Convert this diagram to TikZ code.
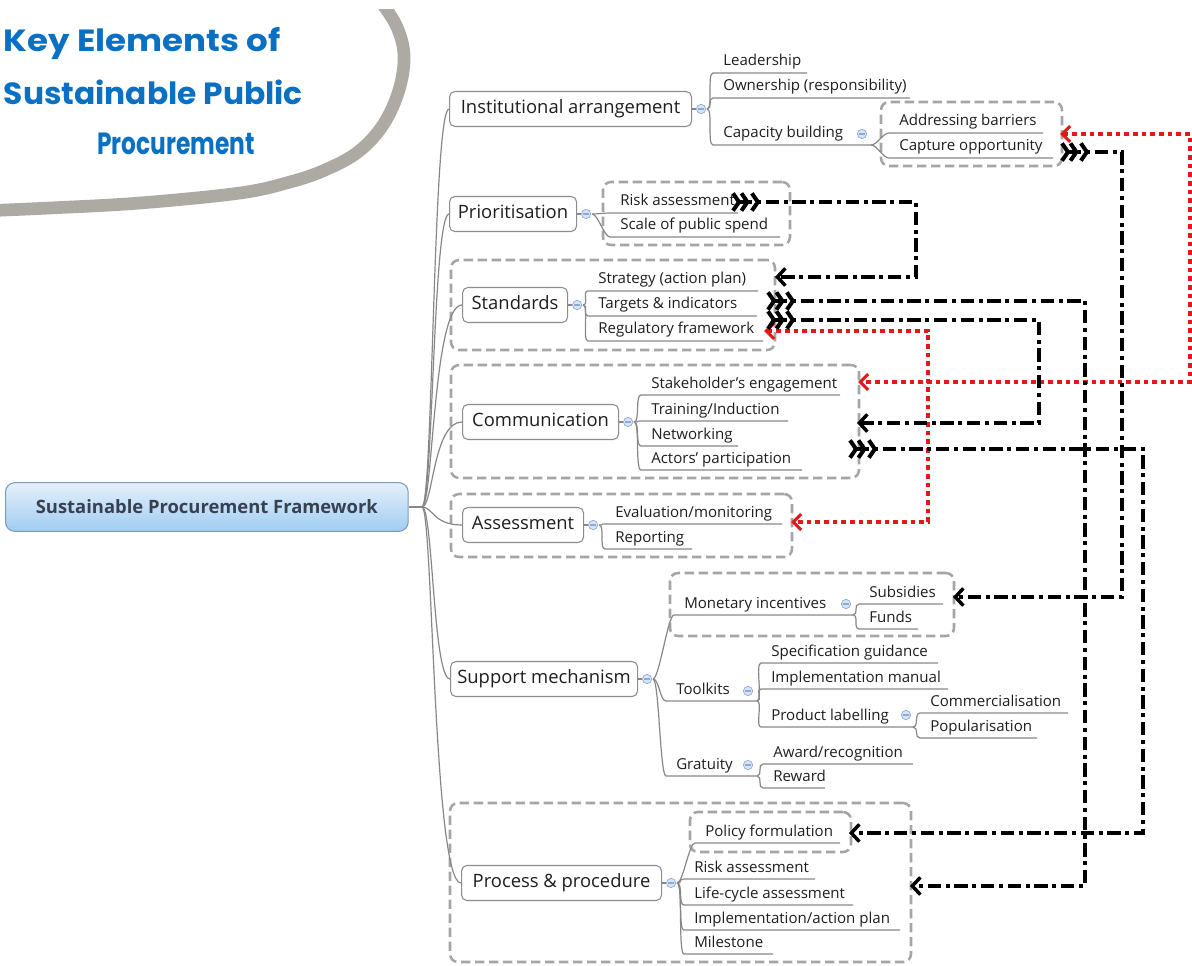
\documentclass[tikz,border=0pt]{standalone}
\usepackage{fontspec}
\setmainfont{Open Sans}
\newfontfamily\titlefont{Poppins}
\usetikzlibrary{arrows.meta,calc,fit}
\definecolor{treegray}{RGB}{135,135,135}
\definecolor{boxgray}{RGB}{140,140,140}
\definecolor{dashgray}{RGB}{165,165,165}
\definecolor{textc}{RGB}{30,30,30}
\definecolor{titleblue}{RGB}{10,112,195}
\definecolor{arcgray}{RGB}{172,170,162}
\definecolor{icoblue}{RGB}{140,170,215}
\definecolor{icofill}{RGB}{215,228,245}
\definecolor{relred}{RGB}{225,25,25}
\definecolor{rootborder}{RGB}{125,155,185}
\definecolor{roottop}{RGB}{228,240,252}
\definecolor{rootbot}{RGB}{160,205,242}
\definecolor{roottext}{RGB}{55,65,80}
\tikzset{
  branch/.style={draw=treegray, line width=0.9pt},
  lone/.style={draw=boxgray, rounded corners=4pt, fill=white, line width=0.8pt,
    font=\fontsize{13.8}{16}\selectfont, text=textc, minimum height=26.25pt,
    inner xsep=2pt, text height=1.6ex, text depth=0.4ex, anchor=west},
  kid/.style={inner sep=0pt, font=\fontsize{11.3}{13}\selectfont, text=textc, anchor=base west},
  dbox/.style={draw=dashgray, dash pattern=on 7pt off 3.5pt, line width=1.9pt,
    rounded corners=6pt, inner sep=0pt},
  ico/.style={circle, draw=icoblue, fill=icofill, minimum size=7pt, inner sep=0pt, line width=0.5pt,
    path picture={\draw[icoblue, line width=0.8pt] ([xshift=-2pt]path picture bounding box.center) -- ([xshift=2pt]path picture bounding box.center);}},
  chev/.tip={Straight Barb[reversed,length=4.5pt,width=13pt,line width=3pt]},
  barb/.tip={Straight Barb[length=6pt,width=13pt,line width=2.6pt]},
  rbarb/.tip={Straight Barb[length=6pt,width=12pt,line width=2.3pt]},
  rel/.style={line width=3pt, black, dash pattern=on 10pt off 3.5pt on 3pt off 3.5pt,
    {chev[sep=-1.5pt]chev[sep=-1.5pt]chev}-{barb}},
  redrel/.style={line width=3pt, relred, dash pattern=on 3.5pt off 3pt, {rbarb}-{rbarb}},
  titletext/.style={font=\titlefont\bfseries\fontsize{23}{28}\selectfont, text=titleblue, inner sep=0pt},
  root/.style={draw=rootborder, rounded corners=7pt, top color=roottop, bottom color=rootbot,
    line width=0.8pt, font=\bfseries\fontsize{13.8}{16}\selectfont, text=roottext,
    minimum width=302pt, minimum height=36.5pt, anchor=west}
}
\newcommand{\kid}[6]{%
  \node[kid] (#1) at (#3,#4-7) {#6};
  \draw[branch] (#2) .. controls +(6,0) and +(-6,0) .. (#3-10,#4) -- (#5,#4);
}
\begin{document}
\begin{tikzpicture}[x=0.75pt,y=-0.75pt]
\useasboundingbox (0,0) rectangle (1192,966);
% title arc
\begin{scope}
\clip (0,10) rectangle (1192,966);
\draw[arcgray, line width=9.5pt] plot[smooth, tension=0.6] coordinates {(378,-2) (396,25) (404,55) (399,90) (383,125) (358,152) (325,170) (290,182) (240,193) (140,203) (50,208) (-20,211)};
\end{scope}
\node[titletext, anchor=base east] (t1) at (281,52) {\scalebox{1.11}[1]{Key Elements of}};
\node[titletext, anchor=base east] (t2) at (303,105) {\scalebox{1.02}[1]{Sustainable Public}};
\node[titletext, anchor=base] (t3) at (176,155) {\scalebox{0.76}[1]{Procurement}};

% dashed boxes
\node[dbox, fit={(881,102) (1062,166)}] (capbox) {};
\node[dbox, fit={(603,182) (790,245)}] (priobox) {};
\node[dbox, fit={(451,260) (775,350)}] (stdbox) {};
\node[dbox, fit={(451,365) (859,478)}] (commbox) {};
\node[dbox, fit={(451,494) (792,557)}] (assbox) {};
\node[dbox, fit={(670,573) (954,636)}] (monbox) {};
\node[dbox, fit={(450,803) (911,962)}] (procbox) {};
\node[dbox, fit={(690,812) (851,852)}] (polbox) {};

% root
\node[root] (root) at (5,507) {Sustainable Procurement Framework};
\coordinate (hub) at (422,507);
\draw[branch] (root.east) -- (hub);

% level 1
\node[lone, minimum width=181.5pt] (inst) at (449,109) {Institutional arrangement};
\node[lone, minimum width=95.25pt] (prio) at (449,214) {Prioritisation};
\node[lone, minimum width=78.75pt] (std) at (462,305) {Standards};
\node[lone, minimum width=117pt] (comm) at (462,422) {Communication};
\node[lone, minimum width=90.75pt] (ass) at (462,525) {Assessment};
\node[lone, minimum width=140.25pt] (sup) at (450,679) {Support mechanism};
\node[lone, minimum width=150pt] (proc) at (461,883) {Process \& procedure};

\foreach \n in {inst,prio,std,comm,ass,sup,proc}{
  \draw[branch] (hub) .. controls (433,507) and (433,0|-\n.west) .. (\n.west);
  \node[ico] (\n i) at ($(\n.east)+(9,0)$) {};
  \coordinate (\n p) at ($(\n.east)+(15,0)$);
  \draw[branch] (\n.east) -- (\n i.west);
}

% institutional
\kid{lead}{instp}{723}{73}{807}{Leadership}
\kid{own}{instp}{723}{98}{910}{Ownership (responsibility)}
\kid{capb}{instp}{723}{145}{871}{Capacity building}
\node[ico] (capbi) at (862,134) {};
\coordinate (capp) at (871,145);
\kid{addr}{capp}{899}{133}{1043}{Addressing barriers}
\kid{capt}{capp}{899}{158}{1053}{Capture opportunity}

% prioritisation
\kid{prisk}{priop}{620}{213}{738}{Risk assessment}
\kid{scale}{priop}{620}{237}{780}{Scale of public spend}

% standards
\kid{strat}{stdp}{598}{291}{758}{Strategy (action plan)}
\kid{targ}{stdp}{598}{316}{757}{Targets \& indicators}
\kid{regf}{stdp}{598}{341}{763}{Regulatory framework}

% communication
\kid{stake}{commp}{651}{395}{840}{Stakeholder's engagement}
\kid{train}{commp}{651}{421}{788}{Training/Induction}
\kid{netw}{commp}{651}{446}{738}{Networking}
\kid{actor}{commp}{651}{470}{802}{Actors' participation}

% assessment
\kid{eval}{assp}{615}{524}{782}{Evaluation/monitoring}
\kid{rep}{assp}{615}{549}{692}{Reporting}

% support
\kid{mon}{supp}{684}{615}{853}{Monetary incentives}
\node[ico] (moni) at (846,604) {};
\coordinate (monp) at (853,615);
\kid{subs}{monp}{869}{604}{943}{Subsidies}
\kid{funds}{monp}{869}{629}{918}{Funds}
\kid{tool}{supp}{676}{701}{757}{Toolkits}
\node[ico] (tooli) at (748,691) {};
\coordinate (toolp) at (757,701);
\kid{spec}{toolp}{771}{663}{938}{Specification guidance}
\kid{impl}{toolp}{771}{689}{948}{Implementation manual}
\kid{prod}{toolp}{771}{727}{913}{Product labelling}
\node[ico] (prodi) at (906,715) {};
\coordinate (prodp) at (913,727);
\kid{comz}{prodp}{930}{713}{1068}{Commercialisation}
\kid{pop}{prodp}{930}{738}{1037}{Popularisation}
\kid{grat}{supp}{676}{776}{757}{Gratuity}
\node[ico] (grati) at (748,765) {};
\coordinate (gratp) at (757,776);
\kid{award}{gratp}{773}{764}{913}{Award/recognition}
\kid{rew}{gratp}{773}{788}{825}{Reward}

% process
\kid{pol}{procp}{705}{843}{840}{Policy formulation}
\kid{risktwo}{procp}{694}{879}{815}{Risk assessment}
\kid{lca}{procp}{694}{905}{853}{Life-cycle assessment}
\kid{implp}{procp}{694}{930}{900}{Implementation/action plan}
\kid{mile}{procp}{694}{954}{773}{Milestone}

% relationship end points
\coordinate (a1) at (733,202);  \coordinate (a2) at (775,277);
\coordinate (b1) at (768,301);  \coordinate (b2) at (910,886);
\coordinate (c1) at (768,320);  \coordinate (c2) at (857,423);
\coordinate (d1) at (1062,152); \coordinate (d2) at (953,597);
\coordinate (e1) at (850,449);  \coordinate (e2) at (849,833);
\coordinate (r1) at (1060,134); \coordinate (r2) at (858,382);
\coordinate (s1) at (764,331);  \coordinate (s2) at (791,522);

\draw[redrel] (r1) -- ++(130,0) |- (r2);
\draw[redrel] (s1) -- ++(164,0) |- (s2);
\draw[rel] (a1) -- ++(183,0) |- (a2);
\draw[rel] (b1) -- ++(317,0) |- (b2);
\draw[rel] (c1) -- ++(271,0) |- (c2);
\draw[rel] (d1) -- ++(60,0) |- (d2);
\draw[rel] (e1) -- ++(293,0) |- (e2);
\end{tikzpicture}
\end{document}
